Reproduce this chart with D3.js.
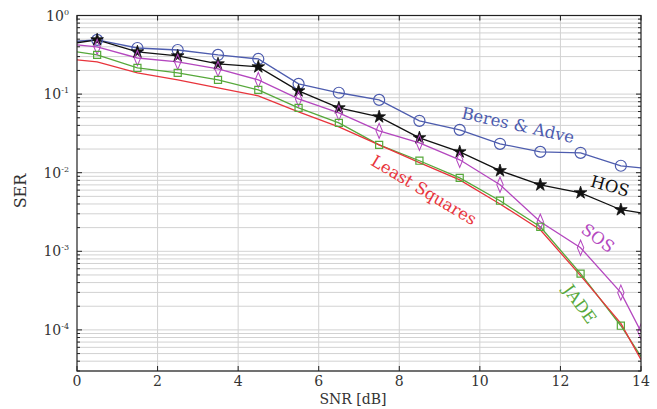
<!DOCTYPE html>
<html><head><meta charset="utf-8">
<script src="https://cdn.jsdelivr.net/npm/d3@7"></script>
<style>html,body{margin:0;padding:0;background:#fff;}svg{display:block;} text{font-family:"DejaVu Serif","Liberation Serif","Times New Roman",serif;}</style>
</head><body><svg id="c" width="657" height="409"></svg>
<script>
const snr = [0, 0.5, 1.5, 2.5, 3.5, 4.5, 5.5, 6.5, 7.5, 8.5, 9.5, 10.5, 11.5, 12.5, 13.5, 14];
const beres = [0.47, 0.49, 0.386, 0.364, 0.315, 0.28, 0.135, 0.104, 0.0844, 0.0457, 0.0351, 0.0233, 0.0184, 0.0179, 0.01225, 0.0115];
const hos   = [0.45, 0.49, 0.344, 0.306, 0.242, 0.222, 0.110, 0.0668, 0.0513, 0.0278, 0.0184, 0.0106, 0.0070, 0.00555, 0.00338, 0.00309];
const sos   = [0.422, 0.398, 0.288, 0.2565, 0.209, 0.1515, 0.0869, 0.0577, 0.0341, 0.024, 0.0146, 0.00702, 0.00238, 0.00111, 0.000298, 0.0000951];
const jade  = [0.344, 0.315, 0.215, 0.186, 0.1515, 0.113, 0.0668, 0.0431, 0.0226, 0.0142, 0.0086, 0.0044, 0.00205, 0.00052, 0.000113, 0.0000458];
const ls    = [0.272, 0.2565, 0.186, 0.1515, 0.12, 0.095, 0.0594, 0.0383, 0.0226, 0.0134, 0.0081, 0.0040, 0.00188, 0.00049, 0.000121, 0.0000419];
const xTicks = [0, 2, 4, 6, 8, 10, 12, 14];
const yDecades = [1, 0.1, 0.01, 0.001, 0.0001];
const yExp = ["0", "-1", "-2", "-3", "-4"];
const names = ["Beres & Adve", "HOS", "SOS", "JADE", "Least Squares"];

const series = [
  {name: names[0], values: beres, color: "#4d5cae", marker: "circle", extraEnd: false},
  {name: names[1], values: hos, color: "#111111", marker: "star", extraEnd: false},
  {name: names[2], values: sos, color: "#b447bf", marker: "diamond", extraEnd: true},
  {name: names[3], values: jade, color: "#56a83a", marker: "square", extraEnd: false},
  {name: names[4], values: ls, color: "#e8343c", marker: null, extraEnd: false}
];

const svg = d3.select("#c");
const L = 77, R = 641, T = 15.5, B = 371;
const x = d3.scaleLinear().domain([0, 14]).range([L, R]);
const y = d3.scaleLog().domain([3e-5, 1]).range([B, T]);

svg.append("defs").append("clipPath").attr("id", "clip")
  .append("rect").attr("x", L).attr("y", T).attr("width", R - L).attr("height", B - T);

// grid
const minorVals = [];
[1e-5, 1e-4, 1e-3, 1e-2, 1e-1].forEach(d => { for (let k = 1; k <= 9; k++) { const v = d * k; if (v >= 3e-5 && v <= 1) minorVals.push(v); } });
minorVals.push(1);
const g = svg.append("g");
g.selectAll("line.hg").data(minorVals).join("line")
  .attr("x1", L).attr("x2", R).attr("y1", d => y(d)).attr("y2", d => y(d))
  .attr("stroke", "#d2d2d2").attr("stroke-width", 1);
g.selectAll("line.vg").data(xTicks.slice(1, -1)).join("line")
  .attr("x1", d => x(d)).attr("x2", d => x(d)).attr("y1", T).attr("y2", B)
  .attr("stroke", "#d2d2d2").attr("stroke-width", 1);

// lines
const plot = svg.append("g").attr("clip-path", "url(#clip)");
const line = d3.line().x((d, i) => x(snr[i])).y(d => y(d));
series.forEach(s => {
  plot.append("path").datum(s.values).attr("d", line)
    .attr("fill", "none").attr("stroke", s.color).attr("stroke-width", 1.3);
});
const symType = {circle: d3.symbolCircle, star: d3.symbolStar, diamond: d3.symbolDiamond, square: d3.symbolSquare};
const symSize = {circle: 95, star: 50, diamond: 55, square: 50};
series.forEach(s => {
  if (!s.marker) return;
  const pts = s.values.map((v, i) => ({x: snr[i], v, i})).filter(p => p.i > 0 && (p.i < snr.length - 1 || s.extraEnd));
  plot.selectAll(null).data(pts).join("path")
    .attr("transform", p => `translate(${x(p.x)},${y(p.v)})` + (s.marker === "diamond" ? " scale(0.8,1.1)" : ""))
    .attr("d", d3.symbol().type(symType[s.marker]).size(symSize[s.marker]))
    .attr("fill", s.marker === "star" ? s.color : "none")
    .attr("stroke", s.color).attr("stroke-width", s.marker === "star" ? 0.8 : 1.2);
});

// axes box
svg.append("rect").attr("x", L).attr("y", T).attr("width", R - L).attr("height", B - T)
  .attr("fill", "none").attr("stroke", "#222").attr("stroke-width", 1.2);
const ax = svg.append("g");
xTicks.forEach(t => {
  ax.append("line").attr("x1", x(t)).attr("x2", x(t)).attr("y1", B).attr("y2", B - 5).attr("stroke", "#222");
  ax.append("line").attr("x1", x(t)).attr("x2", x(t)).attr("y1", T).attr("y2", T + 5).attr("stroke", "#222");
  ax.append("text").attr("x", x(t)).attr("y", 386).attr("text-anchor", "middle")
    .attr("font-size", 14).attr("fill", "#333").text(t);
});
minorVals.forEach(v => {
  const major = Math.abs(Math.log10(v) - Math.round(Math.log10(v))) < 1e-9;
  const len = major ? 5 : 3;
  ax.append("line").attr("x1", L).attr("x2", L + len).attr("y1", y(v)).attr("y2", y(v)).attr("stroke", "#222");
  ax.append("line").attr("x1", R).attr("x2", R - len).attr("y1", y(v)).attr("y2", y(v)).attr("stroke", "#222");
});
yDecades.forEach((v, i) => {
  const t = ax.append("text").attr("x", 69).attr("y", y(v) + 5).attr("text-anchor", "end")
    .attr("font-size", 14).attr("fill", "#333");
  t.append("tspan").text("10");
  t.append("tspan").attr("dy", -6).attr("font-size", 8).text(yExp[i]);
});
svg.append("text").attr("x", 353).attr("y", 404).attr("text-anchor", "middle")
  .attr("font-size", 14).attr("fill", "#333").text("SNR [dB]");
svg.append("text").attr("transform", "translate(26,191) rotate(-90)").attr("text-anchor", "middle")
  .attr("font-size", 16).attr("fill", "#333").text("SER");

const labels = [
  {text: names[0], color: series[0].color, cx: 518, cy: 125, rot: 12.5},
  {text: names[1], color: series[1].color, cx: 610, cy: 186, rot: 16},
  {text: names[4], color: series[4].color, cx: 424, cy: 190, rot: 31},
  {text: names[2], color: series[2].color, cx: 598, cy: 238, rot: 37},
  {text: names[3], color: series[3].color, cx: 580, cy: 304, rot: 54}
];
labels.forEach(l => {
  svg.append("text").attr("transform", `translate(${l.cx},${l.cy}) rotate(${l.rot})`)
    .attr("text-anchor", "middle").attr("dy", "0.35em")
    .attr("font-size", 16.5).attr("fill", l.color).text(l.text);
});
</script></body></html>
